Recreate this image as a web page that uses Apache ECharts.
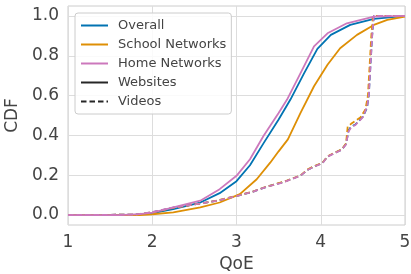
<!DOCTYPE html>
<html>
<head>
<meta charset="utf-8">
<script src="https://cdn.jsdelivr.net/npm/echarts@6/dist/echarts.min.js"></script>
<style>
html,body{margin:0;padding:0;background:#fff;}
#c{width:411px;height:274px;}
</style>
</head>
<body>
<div id="c"></div>
<script>
// Legend / category names
const groupNames = ['Overall', 'School Networks', 'Home Networks'];
const typeNames = ['Websites', 'Videos'];
const xTicks = [1, 2, 3, 4, 5];
const yTicks = [0, 0.2, 0.4, 0.6, 0.8, 1.0];

// Websites CDFs (solid), [QoE, CDF]
const overallWebsites = [[1,0],[1.6,0],[1.8,0.002],[2.0,0.01],[2.25,0.03],[2.57,0.063],[2.8,0.11],[3.0,0.17],[3.16,0.25],[3.32,0.36],[3.5,0.48],[3.64,0.58],[3.8,0.71],[3.96,0.835],[4.12,0.905],[4.35,0.955],[4.63,0.985],[5,1.0]];
const schoolWebsites = [[1,0],[1.85,0],[2.0,0.004],[2.25,0.013],[2.57,0.038],[2.8,0.063],[3.04,0.105],[3.24,0.18],[3.4,0.263],[3.5,0.32],[3.61,0.38],[3.76,0.513],[3.92,0.647],[4.08,0.755],[4.23,0.838],[4.43,0.905],[4.63,0.955],[4.79,0.98],[5,0.997]];
const homeWebsites = [[1,0],[1.6,0],[1.85,0.005],[2.0,0.012],[2.25,0.038],[2.57,0.072],[2.8,0.13],[3.0,0.197],[3.16,0.28],[3.32,0.397],[3.5,0.513],[3.6,0.58],[3.76,0.713],[3.92,0.847],[4.08,0.913],[4.31,0.963],[4.63,0.997],[5,1.0]];

// Videos CDFs (dashed)
const overallVideos = [[1,0],[1.8,0.002],[2.0,0.014],[2.25,0.037],[2.57,0.058],[2.77,0.072],[3.0,0.095],[3.2,0.118],[3.36,0.142],[3.56,0.166],[3.76,0.198],[3.84,0.226],[3.92,0.244],[4.02,0.261],[4.08,0.294],[4.16,0.311],[4.25,0.329],[4.3,0.357],[4.33,0.425],[4.36,0.445],[4.41,0.454],[4.5,0.494],[4.55,0.54],[4.57,0.6],[4.59,0.75],[4.61,0.9],[4.63,1.0],[5,1.0]];
const schoolVideos = [[1,0],[1.8,0.002],[2.0,0.013],[2.25,0.036],[2.57,0.058],[2.77,0.073],[3.0,0.096],[3.2,0.119],[3.36,0.143],[3.56,0.167],[3.76,0.199],[3.84,0.228],[3.92,0.245],[4.02,0.262],[4.08,0.295],[4.16,0.312],[4.25,0.33],[4.3,0.36],[4.32,0.445],[4.36,0.458],[4.47,0.49],[4.53,0.53],[4.56,0.6],[4.58,0.75],[4.6,0.9],[4.62,1.0],[5,1.0]];
const homeVideos = [[1,0],[1.8,0.002],[2.0,0.015],[2.25,0.038],[2.57,0.058],[2.77,0.072],[3.0,0.095],[3.2,0.118],[3.36,0.142],[3.56,0.165],[3.76,0.198],[3.84,0.226],[3.92,0.243],[4.02,0.26],[4.08,0.293],[4.16,0.31],[4.25,0.328],[4.3,0.355],[4.33,0.42],[4.36,0.44],[4.41,0.452],[4.5,0.492],[4.55,0.545],[4.57,0.6],[4.59,0.75],[4.61,0.9],[4.63,1.0],[5,1.0]];

const colors = ['#0173b2', '#de8f05', '#cc78bc'];
const websitesData = [overallWebsites, schoolWebsites, homeWebsites];
const videosData = [overallVideos, schoolVideos, homeVideos];

const FONT = 'DejaVu Sans';
const dash = [5.5, 3];
const series = [];
for (let i = 0; i < 3; i++) {
  series.push({
    name: groupNames[i], type: 'line', data: websitesData[i], symbol: 'none',
    color: colors[i], lineStyle: {width: 1.8, color: colors[i]}, z: 2 + i
  });
}
for (let i = 0; i < 3; i++) {
  series.push({
    name: groupNames[i] + ' ' + typeNames[1], type: 'line', data: videosData[i], symbol: 'none',
    color: colors[i], lineStyle: {width: 1.8, color: colors[i], type: dash}, z: 2 + i
  });
}
series.push({name: typeNames[0], type: 'line', data: [], symbol: 'none', color: '#262626', lineStyle: {width: 1.8, color: '#262626'}});
series.push({name: typeNames[1], type: 'line', data: [], symbol: 'none', color: '#262626', lineStyle: {width: 1.8, color: '#262626', type: dash}});

const chart = echarts.init(document.getElementById('c'), null, {renderer: 'canvas'});
chart.setOption({
  animation: false,
  backgroundColor: '#ffffff',
  textStyle: {fontFamily: FONT},
  grid: {left: 68, right: 6, top: 6, bottom: 49, outerBoundsMode: 'none', containLabel: false, show: true, borderColor: '#cccccc', borderWidth: 1, backgroundColor: 'transparent'},
  legend: {
    data: groupNames.concat(typeNames),
    orient: 'vertical', left: 75, top: 13,
    padding: [6, 5, 6, 5],
    itemWidth: 27, itemHeight: 10, itemGap: 6,
    itemStyle: {opacity: 0},
    backgroundColor: 'rgba(255,255,255,0.85)',
    borderColor: '#cccccc', borderWidth: 1, borderRadius: 3,
    selectedMode: false,
    textStyle: {fontFamily: FONT, fontSize: 13, color: '#444444', padding: [0, 0, 0, 5]}
  },
  xAxis: {
    type: 'value', min: 1, max: 5, interval: 1,
    name: 'QoE', nameLocation: 'middle', nameGap: 30,
    nameTextStyle: {fontFamily: FONT, fontSize: 17, color: '#444444'},
    axisLine: {show: false}, axisTick: {show: false},
    axisLabel: {fontFamily: FONT, fontSize: 17, color: '#444444', margin: 9, customValues: xTicks},
    splitLine: {show: true, lineStyle: {color: '#dddddd', width: 1}}
  },
  yAxis: {
    type: 'value', min: -0.05, max: 1.05,
    name: 'CDF', nameLocation: 'middle', nameGap: 46,
    nameTextStyle: {fontFamily: FONT, fontSize: 17, color: '#444444'},
    axisLine: {show: false},
    axisTick: {show: false, customValues: yTicks},
    axisLabel: {fontFamily: FONT, fontSize: 17, color: '#444444', margin: 9, padding: [5, 0, 0, 0], customValues: yTicks, formatter: v => v.toFixed(1)},
    splitLine: {show: true, lineStyle: {color: '#dddddd', width: 1}}
  },
  series: series
});
</script>
</body>
</html>
